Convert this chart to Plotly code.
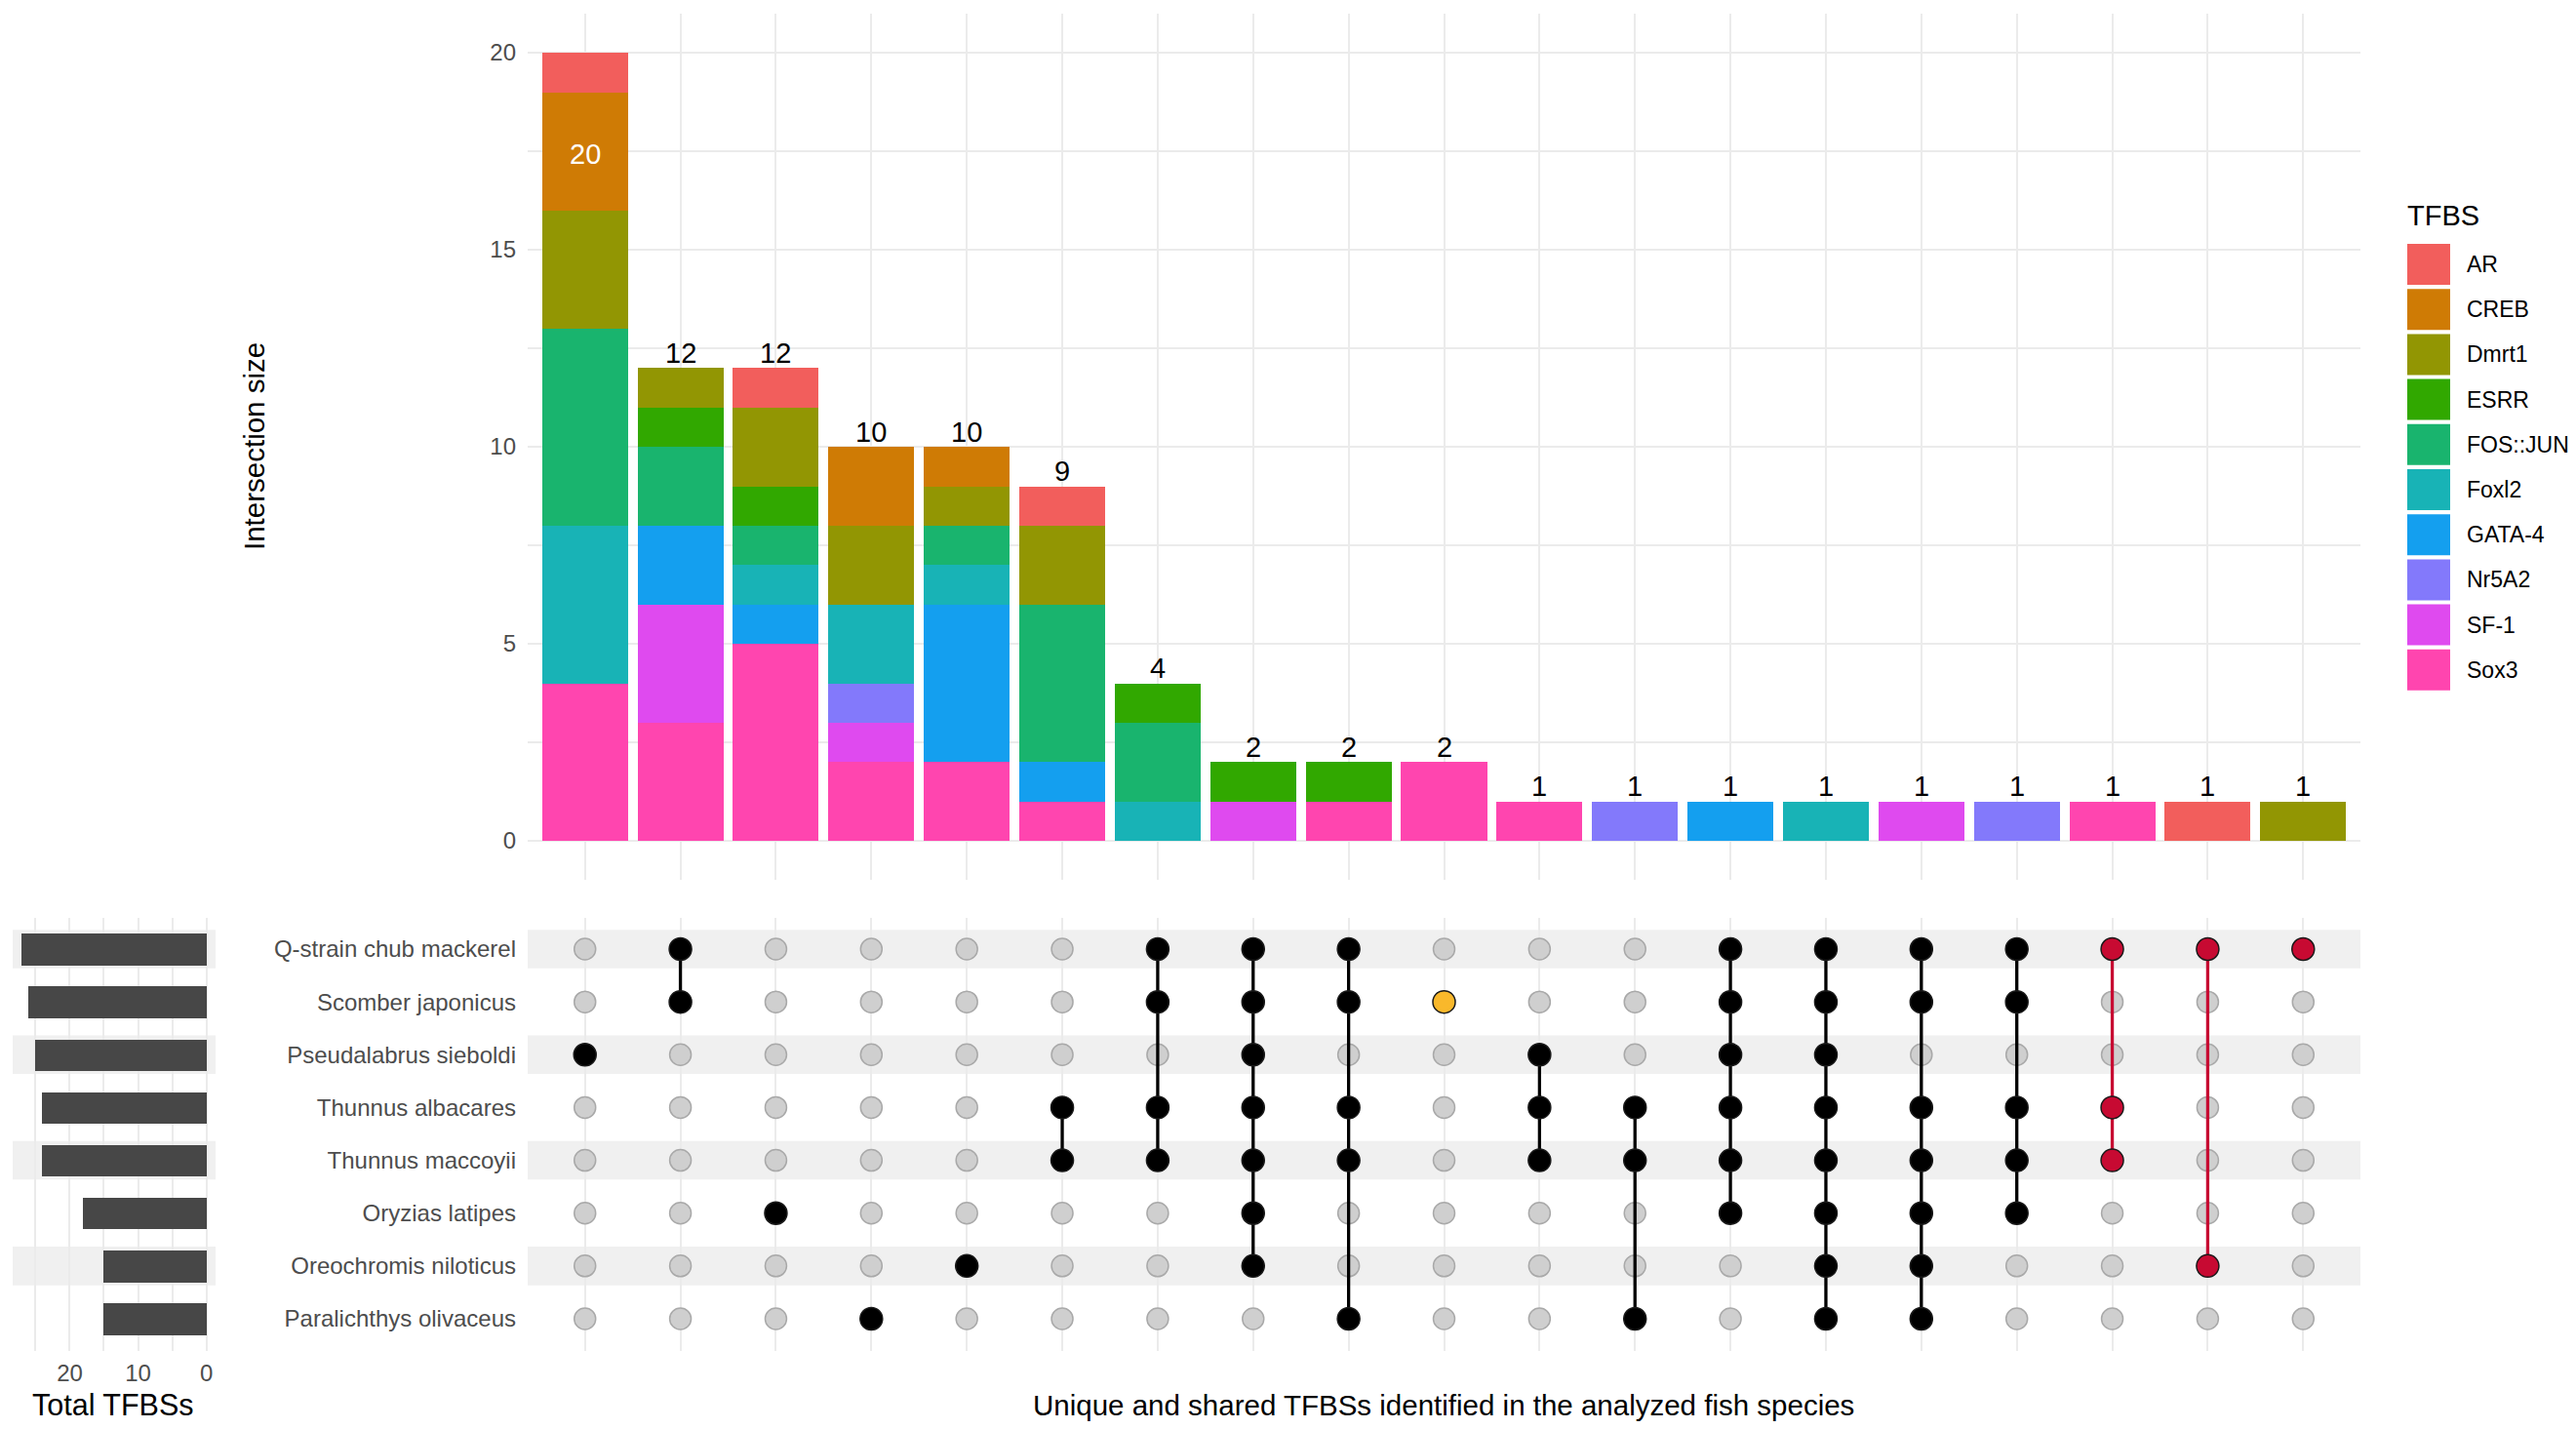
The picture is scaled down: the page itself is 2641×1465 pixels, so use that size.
import plotly.graph_objects as go

# ---- data ----
species = ["Q-strain chub mackerel", "Scomber japonicus", "Pseudalabrus sieboldi",
           "Thunnus albacares", "Thunnus maccoyii", "Oryzias latipes",
           "Oreochromis niloticus", "Paralichthys olivaceus"]
set_totals = [27, 26, 25, 24, 24, 18, 15, 15]

tfbs = ["AR", "CREB", "Dmrt1", "ESRR", "FOS::JUN", "Foxl2", "GATA-4", "Nr5A2", "SF-1", "Sox3"]

# counts per intersection column (19 columns, left to right)
ar       = [1, 0, 1, 0, 0, 1, 0, 0, 0, 0, 0, 0, 0, 0, 0, 0, 0, 1, 0]
creb     = [3, 0, 0, 2, 1, 0, 0, 0, 0, 0, 0, 0, 0, 0, 0, 0, 0, 0, 0]
dmrt1    = [3, 1, 2, 2, 1, 2, 0, 0, 0, 0, 0, 0, 0, 0, 0, 0, 0, 0, 1]
esrr     = [0, 1, 1, 0, 0, 0, 1, 1, 1, 0, 0, 0, 0, 0, 0, 0, 0, 0, 0]
fos_jun  = [5, 2, 1, 0, 1, 4, 2, 0, 0, 0, 0, 0, 0, 0, 0, 0, 0, 0, 0]
foxl2    = [4, 0, 1, 2, 1, 0, 1, 0, 0, 0, 0, 0, 0, 1, 0, 0, 0, 0, 0]
gata4    = [0, 2, 1, 0, 4, 1, 0, 0, 0, 0, 0, 0, 1, 0, 0, 0, 0, 0, 0]
nr5a2    = [0, 0, 0, 1, 0, 0, 0, 0, 0, 0, 0, 1, 0, 0, 0, 1, 0, 0, 0]
sf1      = [0, 3, 0, 1, 0, 0, 0, 1, 0, 0, 0, 0, 0, 0, 1, 0, 0, 0, 0]
sox3     = [4, 3, 5, 2, 2, 1, 0, 0, 1, 2, 1, 0, 0, 0, 0, 0, 1, 0, 0]
counts = [ar, creb, dmrt1, esrr, fos_jun, foxl2, gata4, nr5a2, sf1, sox3]

# species (row index) present in each intersection column
members = [
    [2], [0, 1], [5], [7], [6], [3, 4], [0, 1, 3, 4], [0, 1, 2, 3, 4, 5, 6],
    [0, 1, 3, 4, 7], [1], [2, 3, 4], [3, 4, 7], [0, 1, 2, 3, 4, 5],
    [0, 1, 2, 3, 4, 5, 6, 7], [0, 1, 3, 4, 5, 6, 7], [0, 1, 3, 4, 5],
    [0, 3, 4], [0, 6], [0],
]

# ---- styles ----
tfbs_colors = ["#F25E5C", "#CF7B05", "#929603", "#31A800", "#19B46E",
               "#18B3B6", "#149FEF", "#8379FB", "#DF4AEF", "#FF45AF"]
col_colors = ["black"] * 9 + ["#F9B82B"] + ["black"] * 6 + ["#C70A32"] * 3
GRID = "#EBEBEB"
STRIPE = "#F0F0F0"
FONT = "Liberation Sans"

W, H = 2625, 1449
n_cols = len(members)
cols = list(range(1, n_cols + 1))
totals = [sum(c[i] for c in counts) for i in range(n_cols)]


def fx(p):
    return p / W


def fy(p):
    return 1 - p / H


fig = go.Figure()

# stacked intersection bars (Sox3 at the bottom)
for name, vals, colr in reversed(list(zip(tfbs, counts, tfbs_colors))):
    fig.add_trace(go.Bar(x=cols, y=vals, name=name, marker_color=colr, width=0.9,
                         marker_line_width=0, showlegend=False, hoverinfo="x+y+name",
                         xaxis="x", yaxis="y"))

# matrix: inactive dots, connectors, active dots
n_sp = len(species)
gx, gy, ax_, ay, acol = [], [], [], [], []
for c, mem in zip(cols, members):
    for r in range(n_sp):
        if r in mem:
            ax_.append(c); ay.append(r); acol.append(col_colors[c - 1])
        else:
            gx.append(c); gy.append(r)
fig.add_trace(go.Scatter(x=gx, y=gy, mode="markers", xaxis="x2", yaxis="y2",
                         marker=dict(size=22, color="#CFCFCF", line=dict(color="#A9A9A9", width=1.5)),
                         showlegend=False, hoverinfo="skip"))
for c, mem in zip(cols, members):
    if len(mem) > 1:
        fig.add_trace(go.Scatter(x=[c, c], y=[min(mem), max(mem)], mode="lines",
                                 xaxis="x2", yaxis="y2",
                                 line=dict(color=col_colors[c - 1], width=3.3),
                                 showlegend=False, hoverinfo="skip"))
fig.add_trace(go.Scatter(x=ax_, y=ay, mode="markers", xaxis="x2", yaxis="y2",
                         marker=dict(size=23, color=acol, line=dict(color="#1A1A1A", width=1.5)),
                         showlegend=False, hoverinfo="skip"))

# set size bars
fig.add_trace(go.Bar(x=set_totals, y=list(range(n_sp)), orientation="h", width=0.6,
                     marker_color="#474747", marker_line_width=0, xaxis="x3", yaxis="y3",
                     showlegend=False))

shapes = []
annotations = []

# stripes on alternate rows
for r in range(0, n_sp, 2):
    for xr, yr in (("x2 domain", "y2"), ("x3 domain", "y3")):
        shapes.append(dict(type="rect", xref=xr, yref=yr, x0=0, x1=1, y0=r - 0.365, y1=r + 0.365,
                           fillcolor=STRIPE, line_width=0, layer="below"))

# bar count labels
thr = 0.85 * max(totals)
for c, t in zip(cols, totals):
    if t >= thr:
        annotations.append(dict(x=c, y=t, xref="x", yref="y", text=str(t), showarrow=False,
                                yanchor="middle", yshift=-104,
                                font=dict(family=FONT, size=29, color="white")))
    else:
        annotations.append(dict(x=c, y=t, xref="x", yref="y", text=str(t), showarrow=False,
                                yanchor="bottom", yshift=-3,
                                font=dict(family=FONT, size=29, color="black")))

# titles
title_font = dict(family=FONT, size=29.5, color="black")
annotations.append(dict(x=fx(253), y=fy(450), xref="paper", yref="paper", text="Intersection size",
                        textangle=-90, showarrow=False, xanchor="center", yanchor="middle",
                        font=title_font))
annotations.append(dict(x=fx(1472), y=fy(1432), xref="paper", yref="paper",
                        text="Unique and shared TFBSs identified in the analyzed fish species",
                        showarrow=False, xanchor="center", yanchor="middle", font=title_font))
annotations.append(dict(x=fx(108), y=fy(1432), xref="paper", yref="paper", text="Total TFBSs",
                        showarrow=False, xanchor="center", yanchor="middle",
                        font=dict(family=FONT, size=30.5, color="black")))

# legend drawn by hand (large square keys)
annotations.append(dict(x=fx(2458), y=fy(213), xref="paper", yref="paper", text="TFBS",
                        showarrow=False, xanchor="left", yanchor="middle",
                        font=dict(family=FONT, size=29, color="black")))
for i, (name, colr) in enumerate(zip(tfbs, tfbs_colors)):
    top = 242 + i * 46.2
    shapes.append(dict(type="rect", xref="paper", yref="paper", x0=fx(2460), x1=fx(2504),
                       y0=fy(top + 42), y1=fy(top), fillcolor=colr, line_width=0))
    annotations.append(dict(x=fx(2519), y=fy(top + 21), xref="paper", yref="paper", text=name,
                            showarrow=False, xanchor="left", yanchor="middle",
                            font=dict(family=FONT, size=23, color="black")))

tick_font = dict(family=FONT, size=24, color="#4D4D4D")
main_x = [fx(533), fx(2412)]

fig.update_layout(
    width=W, height=H,
    margin=dict(l=0, r=0, t=0, b=0),
    paper_bgcolor="white", plot_bgcolor="white",
    barmode="stack", bargap=0,
    shapes=shapes, annotations=annotations,
    font=dict(family=FONT),
    xaxis=dict(domain=main_x, range=[0.4, n_cols + 0.6], tickvals=cols, showticklabels=False,
               showgrid=True, gridcolor=GRID, gridwidth=2, zeroline=False, ticks="",
               anchor="y", fixedrange=True),
    yaxis=dict(domain=[fy(894), fy(5.5)], range=[-1, 21], tickvals=[0, 5, 10, 15, 20],
               showgrid=True, gridcolor=GRID, gridwidth=2, zeroline=False, ticks="",
               tickfont=tick_font, ticklabelstandoff=11, anchor="x",
               minor=dict(dtick=2.5, tick0=0, showgrid=True, gridcolor=GRID, gridwidth=1.5)),
    xaxis2=dict(domain=main_x, range=[0.4, n_cols + 0.6], tickvals=cols, showticklabels=False,
                showgrid=True, gridcolor=GRID, gridwidth=2, zeroline=False, ticks="",
                anchor="y2"),
    yaxis2=dict(domain=[fy(1376.5), fy(932.5)], range=[n_sp - 0.4, -0.6],
                tickvals=list(range(n_sp)), ticktext=species, showgrid=False, zeroline=False,
                ticks="", tickfont=tick_font, ticklabelstandoff=11, anchor="x2"),
    xaxis3=dict(domain=[fx(5), fx(213)], range=[28.35, -1.35], tickvals=[0, 10, 20],
                showgrid=True, gridcolor=GRID, gridwidth=2, zeroline=False, ticks="",
                tickfont=tick_font, ticklabelstandoff=6, anchor="y3",
                minor=dict(dtick=5, tick0=0, showgrid=True, gridcolor=GRID, gridwidth=1.5)),
    yaxis3=dict(domain=[fy(1376.5), fy(932.5)], range=[n_sp - 0.4, -0.6],
                showticklabels=False, showgrid=False, zeroline=False, ticks="", anchor="x3"),
)

fig.write_html("out.html")
